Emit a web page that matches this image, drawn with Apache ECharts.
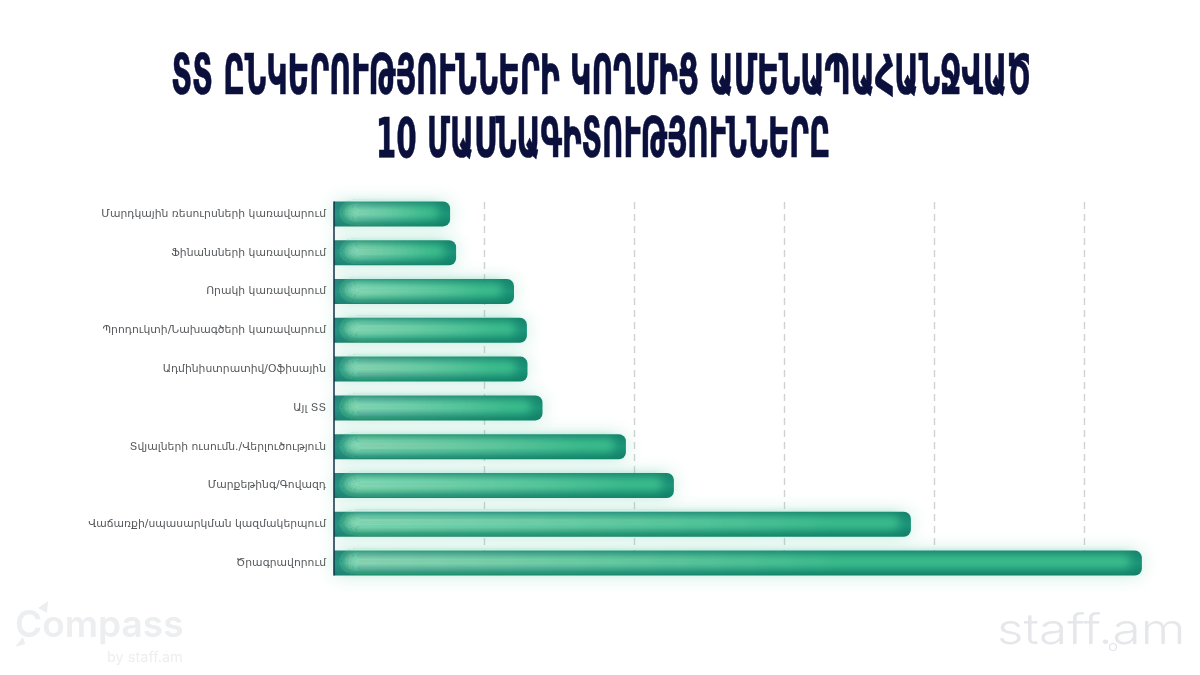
<!DOCTYPE html>
<html><head><meta charset="utf-8">
<style>html,body{margin:0;padding:0;background:#fff}#c{width:1200px;height:675px}</style>
<script src="https://cdn.jsdelivr.net/npm/echarts@6/dist/echarts.min.js"></script>
</head><body><div id="c"></div>
<script>
const titleLine1 = 'ՏՏ ԸՆԿԵՐՈՒԹՅՈՒՆՆԵՐԻ ԿՈՂՄԻՑ ԱՄԵՆԱՊԱՀԱՆՋՎԱԾ';
const titleLine2 = '10 ՄԱՍՆԱԳԻՏՈՒԹՅՈՒՆՆԵՐԸ';
const categories = ['Մարդկային ռեսուրսների կառավարում','Ֆինանսների կառավարում','Որակի կառավարում','Պրոդուկտի/Նախագծերի կառավարում','Ադմինիստրատիվ/Օֆիսային','Այլ ՏՏ','Տվյալների ուսումն./Վերլուծություն','Մարքեթինգ/Գովազդ','Վաճառքի/սպասարկման կազմակերպում','Ծրագրավորում'];
const values = [3.87,4.07,6.0,6.43,6.45,6.95,9.73,11.33,19.23,26.93];

const chart = echarts.init(document.getElementById('c'), null, {renderer:'canvas'});
const L = 334, W = 810;
const OFF = 3000;
function glow(x0,x1,y,h,color,blur){
  return {type:'rect',shape:{x:x0-OFF,y:y-h/2,width:Math.max(0,x1-x0),height:h,r:h/2},
    style:{fill:'#000',shadowColor:color,shadowBlur:blur,shadowOffsetX:OFF}};
}
chart.setOption({
  animation:false,
  backgroundColor:'#fff',
  grid:[
    {left:L, width:W, top:202, height:373},
    {left:L, width:W, top:194.5, height:388}
  ],
  xAxis:[
    {gridIndex:0,type:'value',min:0,max:27,interval:5,axisLabel:{show:false},axisTick:{show:false},axisLine:{show:false},
     splitLine:{show:true,showMinLine:false,showMaxLine:false,lineStyle:{color:'#cfd2d2',type:[7,5],width:1.4}}},
    {gridIndex:1,type:'value',min:0,max:27,interval:5,axisLabel:{show:false},axisTick:{show:false},axisLine:{show:false},splitLine:{show:false}}
  ],
  yAxis:[
    {gridIndex:0,type:'value',min:0,max:1,z:6,axisLabel:{show:false},axisTick:{show:false},splitLine:{show:false},
     axisLine:{show:true,onZero:false,lineStyle:{color:'#12324a',width:1.5}}},
    {gridIndex:1,type:'category',inverse:true,data:categories,axisTick:{show:false},axisLine:{show:false},splitLine:{show:false},
     axisLabel:{margin:8,fontFamily:'DejaVu Sans',fontSize:10.8,color:'#55585b',padding:[0,0,2,0]}}
  ],
  series:[
    {type:'bar',xAxisIndex:1,yAxisIndex:1,data:values,barWidth:25,z:2,
     itemStyle:{borderRadius:[0,7,7,0],
       color:{type:'linear',x:0,y:0,x2:0,y2:1,colorStops:[{offset:0,color:'#15846c'},{offset:0.5,color:'#1a9478'},{offset:1,color:'#0f8066'}]},
       shadowColor:'rgba(70,195,155,0.3)',shadowBlur:18}},
    {type:'custom',xAxisIndex:1,yAxisIndex:1,z:3,silent:true,
     data:values.map((v,i)=>[v,i]),
     encode:{x:0,y:1},
     renderItem(params,api){
       const end = api.coord([api.value(0),api.value(1)]);
       const start = api.coord([0,api.value(1)]);
       const x0 = start[0]+12, x1 = end[0]-11, len = x1-x0, y = end[1]-1.5;
       const children = [glow(x0,x1,y,13,'rgba(62,192,142,1)',10)];
       const reach = Math.min(len*0.85,480);
       for(let k=1;k<=14;k++){
         children.push(glow(x0,x0+reach*k/14,y,8,'rgba(205,240,226,0.085)',12));
       }
       return {type:'group',children};
     }}
  ],
  graphic:[
    {type:'text',id:'t1',x:601,y:80,scaleX:0.605,
     style:{text:titleLine1,font:'bold 55px "DejaVu Sans Condensed","DejaVu Sans"',fill:'#0a0f3c',align:'center',verticalAlign:'middle',stroke:'#0a0f3c',lineWidth:0.6}},
    {type:'text',id:'t2',x:603,y:143,scaleX:0.595,
     style:{text:titleLine2,font:'bold 55px "DejaVu Sans Condensed","DejaVu Sans"',fill:'#0a0f3c',align:'center',verticalAlign:'middle',stroke:'#0a0f3c',lineWidth:0.6}},
    {type:'text',x:15,y:607,style:{text:'Compass',font:'600 37px Inter',fill:'#eceef0'}},
    {type:'polygon',shape:{points:[[38,608],[48,601],[47,613]]},style:{fill:'#eceef0'}},
    {type:'polygon',shape:{points:[[15,647],[23,637],[25,644]]},style:{fill:'#eceef0'}},
    {type:'text',x:107,y:650,style:{text:'by staff.am',font:'14.5px Inter',fill:'#eceef0'}},
    {type:'text',x:997,y:610,scaleX:1.22,style:{text:'staff.am',font:'300 42px Inter',fill:'#e6e7ea'}},
    {type:'circle',shape:{cx:1113,cy:647,r:3.5},style:{fill:'none',stroke:'#e3e4e8',lineWidth:1.2}}
  ]
});
</script></body></html>
